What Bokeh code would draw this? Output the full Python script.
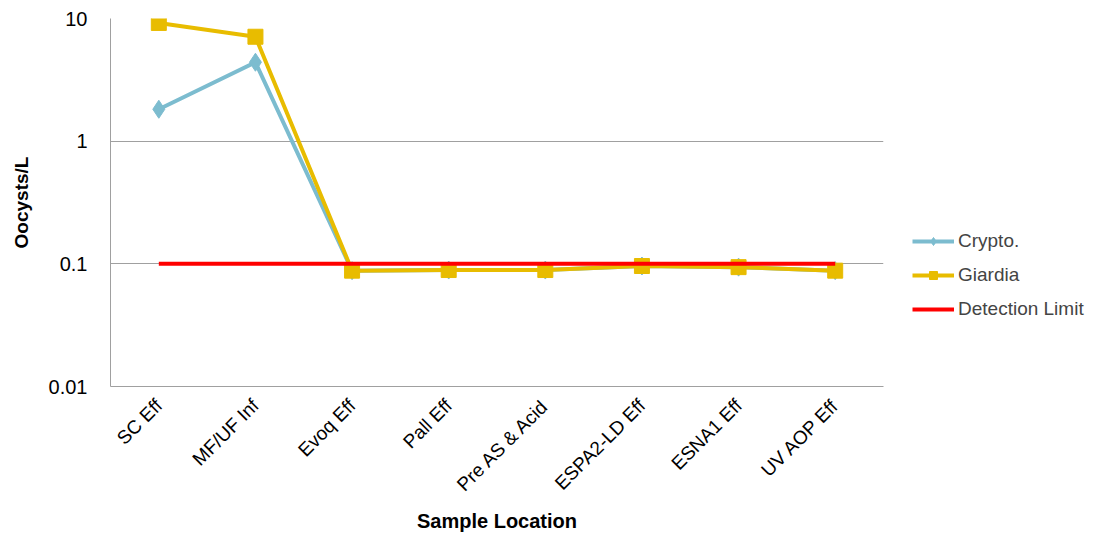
from bokeh.plotting import figure
from bokeh.models import (FactorRange, Range1d, FixedTicker, CustomJSTickFormatter,
                          Legend, LegendItem, ColumnDataSource)
from bokeh.embed import file_html
from bokeh.resources import INLINE
import math

categories = ["SC Eff", "MF/UF Inf", "Evoq Eff", "Pall Eff", "Pre AS & Acid",
              "ESPA2-LD Eff", "ESNA1 Eff", "UV AOP Eff"]
crypto = [1.82, 4.4, 0.088, 0.089, 0.089, 0.096, 0.094, 0.088]
giardia = [9.2, 7.1, 0.088, 0.089, 0.089, 0.096, 0.094, 0.088]
detection_limit = [0.1] * 8
y_ticks = [0.01, 0.1, 1, 10]

FONT = "Liberation Sans"

p = figure(frame_width=773, frame_height=368,
           x_range=FactorRange(*categories, range_padding=0),
           y_range=Range1d(0.01, 10), y_axis_type="log",
           output_backend="svg", toolbar_location=None,
           min_border_left=110, min_border_right=0, min_border_top=18, min_border_bottom=120)
p.outline_line_color = None
p.xgrid.grid_line_color = None
p.ygrid.grid_line_color = "#A0A0A0"
p.ygrid.grid_line_width = 1

p.yaxis.ticker = FixedTicker(ticks=y_ticks, minor_ticks=[])
p.yaxis.formatter = CustomJSTickFormatter(code="return tick.toString();")
for ax in (p.xaxis[0], p.yaxis[0]):
    ax.axis_line_color = "#A0A0A0"
    ax.major_tick_line_color = None
    ax.minor_tick_line_color = None
    ax.major_label_text_font = FONT
    ax.major_label_text_color = "black"
    ax.axis_label_text_font = FONT
    ax.axis_label_text_font_style = "bold"
    ax.axis_label_text_color = "black"
p.yaxis.major_label_text_font_size = "20px"
p.yaxis.major_label_standoff = 17
p.xaxis.major_label_text_font_size = "19px"
p.xaxis.major_label_orientation = math.pi / 4
p.xaxis.major_label_standoff = 10
p.yaxis.axis_label = "Oocysts/L"
p.xaxis.axis_label = "Sample Location"
p.yaxis.axis_label_text_font_size = "19px"
p.xaxis.axis_label_text_font_size = "20px"
p.yaxis.axis_label_standoff = 14
p.xaxis.axis_label_standoff = 5

src = ColumnDataSource(dict(x=categories, crypto=crypto, giardia=giardia, det=detection_limit))

c_line = p.line("x", "crypto", source=src, line_color="#7CBCCF", line_width=4)
c_mark = p.scatter("x", "crypto", source=src, marker="diamond", size=18,
                   fill_color="#7CBCCF", line_color="#7CBCCF")
g_line = p.line("x", "giardia", source=src, line_color="#E8BC00", line_width=4)
g_mark = p.scatter("x", "giardia", source=src, marker="square", size=15,
                   fill_color="#E8BC00", line_color="#E8BC00")
d_line = p.line("x", "det", source=src, line_color="#FF0000", line_width=4)

legend = Legend(items=[
    LegendItem(label="Crypto.", renderers=[c_line, c_mark]),
    LegendItem(label="Giardia", renderers=[g_line, g_mark]),
    LegendItem(label="Detection Limit", renderers=[d_line]),
], location=(29, 66))
legend.border_line_color = None
legend.background_fill_alpha = 0
legend.label_text_font = FONT
legend.label_text_font_size = "19px"
legend.glyph_width = 42
legend.glyph_height = 20
legend.label_height = 20
legend.spacing = 12
legend.label_standoff = 4
legend.padding = 0
legend.margin = 0
p.add_layout(legend, "right")

open("out.html", "w").write(file_html(p, INLINE))
